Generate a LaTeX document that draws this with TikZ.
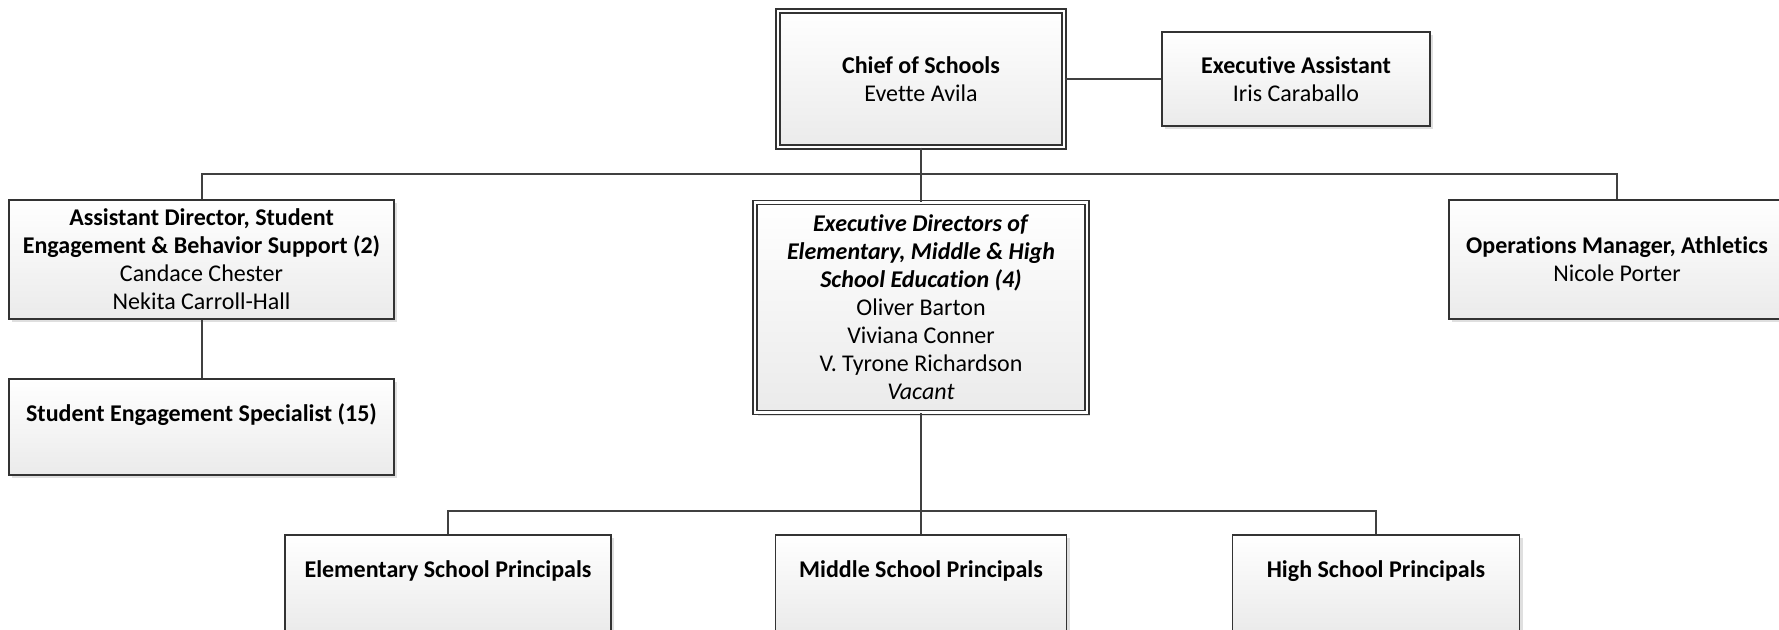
\documentclass[tikz,border=0pt]{standalone}
\usepackage{fontspec}
\setmainfont{Carlito}[Ligatures={NoCommon}]
\usetikzlibrary{shadows}

\begin{document}
\begin{tikzpicture}[x=0.5pt,y=-0.5pt,
		box/.style={draw=black!80,line width=0.7pt,top color=white,bottom color=black!8,
			drop shadow={opacity=0.25,shadow xshift=1.5pt,shadow yshift=-1.5pt},
			align=center,inner sep=0pt,font=\fontsize{12}{14}\selectfont},
		dbox/.style={box,double=white,double distance=1.4pt,line width=0.6pt},
		conn/.style={draw=black!75,line width=1pt}]
		\useasboundingbox (0,0) rectangle (1779,629);

		\node[dbox,minimum width=143pt,minimum height=68pt] (chief) at (921,79)
			{\textbf{Chief of Schools}\\Evette Avila};
		\node[box,minimum width=134pt,minimum height=47pt] (assistant) at (1296,79)
			{\textbf{Executive Assistant}\\Iris Caraballo};

		\node[box,minimum width=192.5pt,minimum height=59.5pt] (adirector) at (201.5,259.5)
			{\textbf{Assistant Director, Student}\\\textbf{Engagement \& Behavior Support (2)}\\Candace Chester\\Nekita Carroll-Hall};
		\node[dbox,minimum width=166pt,minimum height=105pt] (exdirectors) at (921,307.5)
			{\textbf{\textit{Executive Directors of}}\\\textbf{\textit{Elementary, Middle \& High}}\\\textbf{\textit{School Education (4)}}\\Oliver Barton\\Viviana Conner\\V. Tyrone Richardson\\\textit{Vacant}};
		\node[box,minimum width=168pt,minimum height=59.5pt] (operations) at (1617,259.5)
			{\textbf{Operations Manager, Athletics}\\Nicole Porter};

		\node[box,minimum width=192.5pt,minimum height=48pt] (specialist) at (201.5,427)
			{\textbf{Student Engagement Specialist (15)}\\\mbox{}};

		\node[box,minimum width=163pt,minimum height=48pt] (elementary) at (448,583)
			{\textbf{Elementary School Principals}\\\mbox{}};
		\node[box,minimum width=145.5pt,minimum height=48pt] (middle) at (921,583)
			{\textbf{Middle School Principals}\\\mbox{}};
		\node[box,minimum width=143.5pt,minimum height=48pt] (high) at (1376,583)
			{\textbf{High School Principals}\\\mbox{}};

		\coordinate (topbus) at (921,174);
		\coordinate (lowbus) at (921,511);

		\draw[conn] (chief.east) -- (assistant.west);
		\draw[conn] (chief) -- (exdirectors);
		\draw[conn] (adirector.north) |- (topbus) -| (operations.north);
		\draw[conn] (adirector) -- (specialist);
		\draw[conn] (exdirectors) -- (lowbus) -- (middle);
		\draw[conn] (elementary.north) |- (lowbus) -| (high.north);
	\end{tikzpicture}
\end{document}
